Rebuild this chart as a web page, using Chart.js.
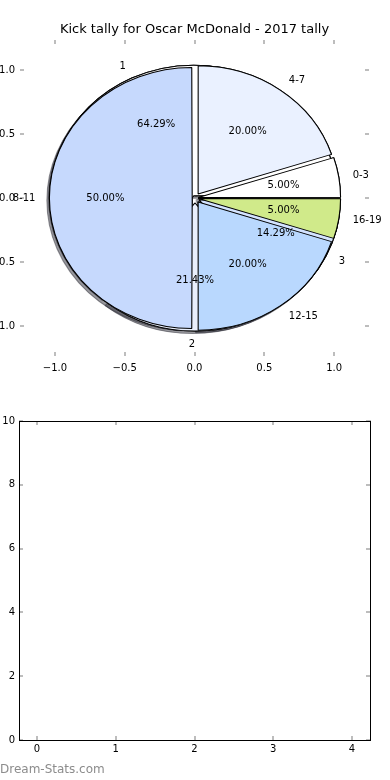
<!DOCTYPE html>
<html>
<head>
<meta charset="utf-8">
<script src="https://cdn.jsdelivr.net/npm/chart.js@4.4.1/dist/chart.umd.min.js"></script>
<style>
  html, body { margin: 0; padding: 0; background: #fff; }
  #wrap { position: relative; width: 390px; height: 780px; overflow: hidden; }
  canvas { position: absolute; left: 0; }
  #mark { position: absolute; left: 0; top: 762px; font: 12px "DejaVu Sans"; color: #8c8c8c; }
</style>
</head>
<body>
<div id="wrap">
  <canvas id="axesTop" width="390" height="380" style="top:0"></canvas>
  <canvas id="pieTwo" width="390" height="396" style="top:0"></canvas>
  <canvas id="pieOne" width="390" height="396" style="top:0"></canvas>
  <canvas id="axesBottom" width="390" height="380" style="top:400px"></canvas>
  <div id="mark">Dream-Stats.com</div>
</div>
<script>
// data
const titleText = 'Kick tally for Oscar McDonald - 2017 tally';
const rangeLabels = ['0-3', '4-7', '8-11', '12-15', '16-19'];
const rangeKicks = [1, 4, 10, 4, 1];
const roundLabels = ['1', '2', '3'];
const roundKicks = [9, 3, 2];
const pieTicks = [-1, -0.5, 0, 0.5, 1];
const emptyXTicks = [0, 1, 2, 3, 4];
const emptyYTicks = [0, 2, 4, 6, 8, 10];

const rangeColors = ['#ffffff', '#eaf1ff', '#c6d9fd', '#b9d8fe', '#d0ea8a'];
const roundColors = ['#ffffff', '#e9effc', '#d3e3ff'];

Chart.defaults.font.family = 'DejaVu Sans';
Chart.defaults.font.size = 10;
Chart.defaults.color = '#000';

const R = 128;          // vertical radius in px
const SX = 140 / 128;   // pie is a bit wider than tall
const EXPLODE = 0.04;

function fmt(v) {
  return (v < 0 ? '\u2212' : '') + Math.abs(v).toFixed(1);
}

function tickGrid() {
  return { display: true, drawOnChartArea: false, drawTicks: true, tickLength: -4, color: '#bdbdbd', lineWidth: 2 };
}

function fixedTicks(list) {
  return function (scale) { scale.ticks = list.map(v => ({ value: v })); };
}

// ---- top axes (the pie sits on them)
new Chart(document.getElementById('axesTop'), {
  type: 'scatter',
  data: { datasets: [{ data: [] }] },
  options: {
    responsive: false,
    animation: false,
    events: [],
    layout: { padding: { left: 0, right: 21, top: 0, bottom: 0 } },
    plugins: {
      legend: { display: false },
      tooltip: { enabled: false },
      title: {
        display: true, text: titleText, fullSize: false, color: '#000',
        font: { size: 13, weight: 'normal' },
        padding: { top: 22.2, bottom: 2.2 }
      }
    },
    scales: {
      x: {
        min: -1.25, max: 1.25,
        afterBuildTicks: fixedTicks(pieTicks),
        afterFit: s => { s.height = 24; },
        ticks: { callback: fmt, padding: 10, maxRotation: 0 },
        grid: tickGrid(), border: { display: false }
      },
      x2: {
        position: 'top', min: -1.25, max: 1.25,
        afterBuildTicks: fixedTicks(pieTicks),
        afterFit: s => { s.height = 0; },
        ticks: { display: false },
        grid: tickGrid(), border: { display: false }
      },
      y: {
        min: -1.234, max: 1.234,
        afterBuildTicks: fixedTicks(pieTicks),
        afterFit: s => { s.width = 20; },
        ticks: { callback: fmt, padding: 9 },
        grid: tickGrid(), border: { display: false }
      },
      y2: {
        position: 'right', min: -1.234, max: 1.234,
        afterBuildTicks: fixedTicks(pieTicks),
        afterFit: s => { s.width = 0; },
        ticks: { display: false },
        grid: tickGrid(), border: { display: false }
      }
    }
  }
});

// ---- pies
function sliceOffset(values) {
  const total = values.reduce((a, b) => a + b, 0);
  return ctx => {
    const circ = values[ctx.dataIndex] / total * Math.PI * 2;
    return 4 * EXPLODE * R / (2 - Math.sin(Math.min(Math.PI, circ)));
  };
}

function pushShape(chart) {
  const ctx = chart.ctx;
  const a = chart.getDatasetMeta(0).data[0];
  ctx.save();
  ctx.translate(a.x, a.y);
  ctx.scale(SX, -1);   // flip so slices run anticlockwise from 3 o'clock
  ctx.translate(-a.x, -a.y);
}

let pieOne = null;
let pieTwo = null;

const shapePlugin = {
  id: 'shape',
  beforeDatasetsDraw(chart) {
    pushShape(chart);
    if (chart.canvas.id === 'pieTwo') {
      // shadows of both pies go under everything
      const ctx = chart.ctx;
      ctx.save();
      ctx.shadowColor = 'rgba(50,50,60,0.5)';
      ctx.shadowOffsetX = -2.5;
      ctx.shadowOffsetY = 2.5;
      [pieOne, chart].forEach(c => {
        if (c) c.getDatasetMeta(0).data.forEach(arc => arc.draw(ctx));
      });
      ctx.restore();
    }
  },
  afterDatasetsDraw(chart) {
    chart.ctx.restore();
  }
};

function drawLabels(ctx, chart, labels, values) {
  const total = values.reduce((a, b) => a + b, 0);
  chart.getDatasetMeta(0).data.forEach((arc, i) => {
    const mid = (arc.startAngle + arc.endAngle) / 2;
    const c = Math.cos(mid), s = Math.sin(mid);
    const k1 = 1.1 + EXPLODE, k2 = 0.6 + EXPLODE;
    ctx.textBaseline = 'middle';
    ctx.textAlign = c > 1e-9 ? 'left' : 'right';
    ctx.fillText(labels[i], arc.x + k1 * R * SX * c, arc.y - k1 * R * s);
    ctx.textAlign = 'center';
    ctx.fillText((values[i] / total * 100).toFixed(2) + '%', arc.x + k2 * R * SX * c, arc.y - k2 * R * s);
  });
}

const labelPlugin = {
  id: 'pieLabels',
  afterDraw(chart) {
    const ctx = chart.ctx;
    ctx.save();
    ctx.fillStyle = '#000';
    ctx.font = '10px "DejaVu Sans"';
    if (pieTwo) drawLabels(ctx, pieTwo, roundLabels, roundKicks);
    drawLabels(ctx, chart, rangeLabels, rangeKicks);
    ctx.restore();
  }
};

function pieOptions() {
  return {
    responsive: false,
    animation: false,
    events: [],
    rotation: 90,
    radius: R,
    layout: { padding: 0 },
    plugins: { legend: { display: false }, tooltip: { enabled: false } }
  };
}

pieOne = new Chart(document.getElementById('pieOne'), {
  type: 'pie',
  data: {
    labels: rangeLabels,
    datasets: [{
      data: rangeKicks,
      backgroundColor: rangeColors,
      borderColor: '#000',
      borderWidth: 1,
      offset: sliceOffset(rangeKicks)
    }]
  },
  options: pieOptions(),
  plugins: [shapePlugin, labelPlugin]
});

pieTwo = new Chart(document.getElementById('pieTwo'), {
  type: 'pie',
  data: {
    labels: roundLabels,
    datasets: [{
      data: roundKicks,
      backgroundColor: roundColors,
      borderColor: '#000',
      borderWidth: 1,
      offset: sliceOffset(roundKicks)
    }]
  },
  options: pieOptions(),
  plugins: [shapePlugin]
});

// redraw so the labels of the second pie land on top
pieOne.draw();

// ---- empty axes below
const frame = { display: true, color: '#000', width: 1 };
new Chart(document.getElementById('axesBottom'), {
  type: 'scatter',
  data: { datasets: [{ data: [] }] },
  options: {
    responsive: false,
    animation: false,
    events: [],
    layout: { padding: { left: 0, right: 20, top: 21, bottom: 0 } },
    plugins: { legend: { display: false }, tooltip: { enabled: false } },
    scales: {
      x: {
        min: -0.229, max: 4.229,
        afterBuildTicks: fixedTicks(emptyXTicks),
        afterFit: s => { s.height = 40; },
        ticks: { padding: 7, maxRotation: 0 },
        grid: tickGrid(), border: frame
      },
      x2: {
        position: 'top', min: -0.229, max: 4.229,
        afterBuildTicks: fixedTicks(emptyXTicks),
        afterFit: s => { s.height = 0; },
        ticks: { display: false },
        grid: tickGrid(), border: frame
      },
      y: {
        min: 0, max: 10,
        afterBuildTicks: fixedTicks(emptyYTicks),
        afterFit: s => { s.width = 19; },
        ticks: { padding: 8 },
        grid: tickGrid(), border: frame
      },
      y2: {
        position: 'right', min: 0, max: 10,
        afterBuildTicks: fixedTicks(emptyYTicks),
        afterFit: s => { s.width = 0; },
        ticks: { display: false },
        grid: tickGrid(), border: frame
      }
    }
  }
});
</script>
</body>
</html>
